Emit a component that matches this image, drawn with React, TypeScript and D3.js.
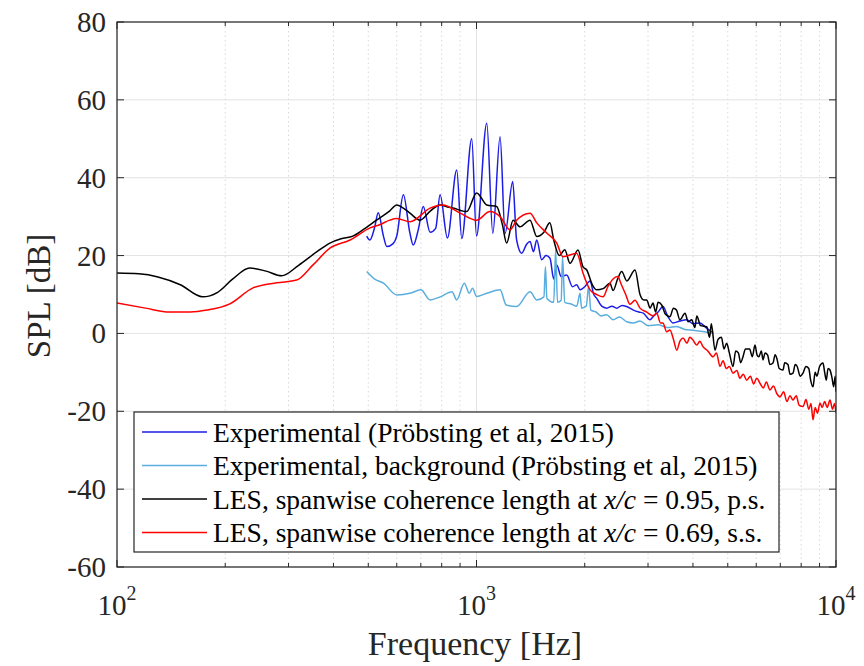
import React from "react";
import * as d3 from "d3";

const W = 864;
const H = 666;
const PL = 117, PR = 836, PT = 22, PB = 567;

const xDomain = [100, 10000];
const yDomain = [-60, 80];
const xTickVals = [100, 1000, 10000];
const xTickExps = ["2", "3", "4"];
const yTickVals = [-60, -40, -20, 0, 20, 40, 60, 80];

// Experimental (Pröbsting et al, 2015)
const expFreq = [495, 505, 520, 533, 551, 563, 585, 600, 626, 653, 667, 690, 711, 743, 770, 792, 830, 881, 910, 970, 1000, 1068, 1110, 1163, 1201, 1261, 1293, 1336, 1380, 1409, 1440, 1471, 1519, 1560, 1601, 1640, 1672, 1720, 1782, 1850, 1900, 1941, 2000, 2069, 2120, 2160, 2230, 2303, 2380, 2455, 2540, 2617, 2731, 2830, 2911, 3039, 3097, 3200, 3303, 3400, 3521, 3680, 3843, 4000, 4185, 4350, 4549];
const expSPL = [25, 24, 27, 31, 25, 22.3, 23, 25, 35.6, 25.7, 22.7, 27, 32.6, 26, 27, 35.6, 24.5, 42, 24.4, 50, 25, 54, 25.7, 50.5, 25.7, 39, 24, 20.6, 23, 23.6, 21, 24, 18.9, 20, 19.3, 14, 17.6, 14.6, 15, 12, 12.5, 11.2, 12, 13.5, 10, 9, 7, 6.5, 7, 6.5, 7.2, 6.9, 6.0, 5.5, 5.2, 3.5, 4.3, 5.5, 6.9, 4.5, 2.7, 3.2, 3.5, 2.5, 2.7, 1.5, 0.1];

// Experimental, background
const bgFreq = [495, 520, 551, 600, 653, 700, 743, 792, 855, 881, 925, 955, 975, 1000, 1068, 1163, 1210, 1293, 1409, 1471, 1540, 1555, 1570, 1640, 1660, 1680, 1720, 1735, 1760, 1840, 1900, 1941, 1960, 2020, 2050, 2080, 2150, 2220, 2300, 2400, 2500, 2617, 2731, 2850, 3000, 3200, 3400, 3600, 3800, 4000, 4250, 4549];
const bgSPL = [15.9, 14, 12.9, 9.9, 10.3, 11.2, 8.6, 9.4, 10.7, 8.6, 12.9, 10.3, 11.6, 9.5, 10.3, 11.2, 7.3, 6.9, 10.7, 8.6, 9.4, 17.1, 9, 8, 21.4, 8, 8.5, 19.7, 8, 7.5, 7, 10.3, 6.5, 7, 12, 6, 5.5, 4.5, 4.8, 3.5, 4.2, 3, 2.7, 3.2, 2, 2.2, 1.5, 1.8, 1, 0.8, 0.5, 0];

// LES, x/c = 0.95, p.s.
const lesPsFreq = [100, 115, 130, 150, 173, 190, 210, 234, 260, 287, 320, 360, 391, 420, 453, 490, 527, 574, 600, 630, 653, 696, 745, 792, 830, 860, 939, 1001, 1068, 1138, 1180, 1213, 1264, 1321, 1409, 1471, 1540, 1600, 1640, 1700, 1760, 1820, 1916, 1978, 2026, 2100, 2160, 2250, 2351, 2398, 2470, 2534, 2620, 2760, 2850, 2920, 2975, 3040, 3097, 3150, 3200, 3275, 3350, 3453, 3530, 3600, 3680, 3802, 3880, 3968, 4050, 4100, 4200, 4369, 4450, 4500, 4607, 4700, 4800, 4880, 4966, 5050, 5170, 5260, 5350, 5430, 5512, 5600, 5750, 5850, 5952, 6030, 6100, 6200, 6265, 6350, 6450, 6550, 6680, 6770, 6850, 6950, 7121, 7200, 7350, 7450, 7593, 7700, 7800, 7950, 8095, 8250, 8400, 8500, 8630, 8750, 8850, 9000, 9200, 9300, 9400, 9500, 9623, 9750, 9850, 9950, 10000];
const lesPsSPL = [15.5, 15.3, 14.5, 12.5, 9.4, 10.5, 14, 16.8, 16, 14.8, 17.5, 21, 23.2, 24.3, 25, 27, 29.1, 31.5, 33, 32, 30.9, 29.1, 31.5, 33, 32.5, 32.2, 31.3, 36.1, 33, 32.6, 28, 23.2, 29.1, 27.4, 29.1, 24.9, 26, 28.4, 24, 20, 21.5, 18, 21.4, 17.1, 16.3, 12.5, 11.2, 11.5, 12.9, 11, 14, 15.9, 13.5, 16.3, 10, 8.6, 8.6, 6.5, 7.8, 5.5, 8, 7.3, 5, 4.3, 6.5, 6, 3.5, 5.2, 3, 3.5, 1.5, 4.5, 2, 1.7, -1, 2.5, -4.3, -1.5, -1, -4, -2.5, -5, -8.5, -4.5, -5, -7.5, -6, -4, -4, -6, -3, -5.5, -6, -4.5, -6.8, -5, -5.5, -8, -7.6, -5.5, -6.5, -9, -9.4, -7.5, -8, -10.5, -10.2, -8, -8.5, -11, -10.2, -8.5, -9, -12, -13.7, -10, -11, -8.5, -7.6, -10, -12, -9, -9.4, -11.5, -13.7, -11, -15];

// LES, x/c = 0.69, s.s.
const lesSsFreq = [100, 120, 140, 160, 178, 206, 239, 278, 316, 351, 391, 445, 506, 540, 574, 600, 653, 743, 807, 900, 1001, 1090, 1163, 1240, 1293, 1409, 1471, 1568, 1672, 1740, 1900, 1978, 2069, 2160, 2248, 2320, 2398, 2470, 2530, 2600, 2673, 2760, 2850, 2975, 3097, 3172, 3250, 3300, 3381, 3453, 3530, 3606, 3680, 3754, 3850, 3920, 4001, 4100, 4180, 4266, 4400, 4549, 4650, 4757, 4850, 4950, 5050, 5170, 5300, 5400, 5520, 5645, 5780, 5900, 6020, 6145, 6280, 6400, 6552, 6700, 6850, 6985, 7150, 7300, 7450, 7593, 7750, 7900, 8095, 8250, 8400, 8520, 8630, 8750, 8880, 9027, 9150, 9300, 9450, 9623, 9780, 9900, 10000];
const lesSsSPL = [7.8, 6.5, 5.5, 5.5, 6.0, 7.6, 11.7, 13.0, 13.7, 17.6, 21.9, 24.0, 27.1, 28, 29.1, 29.5, 28.7, 32.2, 33.0, 30.9, 29.1, 31.3, 30.0, 26.6, 29.1, 30.9, 28.4, 25.8, 23.2, 19.7, 20.6, 15.5, 11.2, 10, 9.4, 12, 14, 14.6, 12.5, 10, 7.5, 8.5, 6.5, 5.5, 4.5, 5.2, 2.7, 2.7, 0.4, 0.9, -1.5, -4.3, -2, -1.2, -2.5, -1, -1.7, -3, -2, -3.4, -4.5, -6.0, -5, -8.5, -7, -9, -8.5, -10.2, -9.5, -11.5, -10.5, -12.0, -11, -13, -11.5, -12.8, -14, -12.5, -14.5, -13.5, -15.5, -16.3, -15, -17.5, -16, -17.1, -16, -18.5, -18.8, -17, -19.5, -18, -22.2, -19, -20.5, -17.9, -19, -17.5, -19, -17.1, -19.5, -18, -20.4];

const seriesColors = ["#1c1ce6", "#5aaede", "#000000", "#ff0000"];

const FONT = "'Liberation Serif', 'Times New Roman', serif";

export default function App() {
  const x = d3.scaleLog().domain(xDomain).range([PL, PR]);
  const y = d3.scaleLinear().domain(yDomain).range([PB, PT]);

  const mk = (fs: number[], vs: number[]) =>
    d3
      .line<number>()
      .x((_, i) => x(fs[i]))
      .y((v) => y(v))
      .curve(d3.curveMonotoneX)(vs) || "";

  const series = [
    { d: mk(expFreq, expSPL), c: seriesColors[0] },
    { d: mk(bgFreq, bgSPL), c: seriesColors[1] },
    { d: mk(lesPsFreq, lesPsSPL), c: seriesColors[2] },
    { d: mk(lesSsFreq, lesSsSPL), c: seriesColors[3] },
  ];

  const minorX: number[] = [];
  [100, 1000].forEach((dec) => {
    for (let k = 2; k <= 9; k++) minorX.push(dec * k);
  });

  const axisColor = "#262626";
  const legX = 134, legY = 412, legW = 645, legH = 140;
  const rowBase = [441.5, 475, 508.5, 542];

  return (
    <svg width={W} height={H} style={{ display: "block", position: "absolute", left: 0, top: 0 }}>
      <rect x={0} y={0} width={W} height={H} fill="#ffffff" />
      <defs>
        <clipPath id="plotclip">
          <rect x={PL} y={PT} width={PR - PL} height={PB - PT} />
        </clipPath>
      </defs>
      {/* minor grid */}
      {minorX.map((v) => (
        <line key={"mg" + v} x1={x(v)} x2={x(v)} y1={PT} y2={PB} stroke="#d9d9d9" strokeWidth={1} strokeDasharray="1.5,3" />
      ))}
      {/* major grid */}
      {xTickVals.map((v) => (
        <line key={"gx" + v} x1={x(v)} x2={x(v)} y1={PT} y2={PB} stroke="#e3e3e3" strokeWidth={1} />
      ))}
      {yTickVals.map((v) => (
        <line key={"gy" + v} x1={PL} x2={PR} y1={y(v)} y2={y(v)} stroke="#e3e3e3" strokeWidth={1} />
      ))}
      {/* data */}
      <g clipPath="url(#plotclip)">
        {series.map((s, i) => (
          <path key={"s" + i} d={s.d} fill="none" stroke={s.c} strokeWidth={1.5} strokeLinejoin="round" />
        ))}
      </g>
      {/* axes box */}
      <rect x={PL} y={PT} width={PR - PL} height={PB - PT} fill="none" stroke={axisColor} strokeWidth={1.2} />
      {/* ticks */}
      {yTickVals.map((v) => (
        <g key={"ty" + v}>
          <line x1={PL} x2={PL + 7} y1={y(v)} y2={y(v)} stroke={axisColor} />
          <line x1={PR} x2={PR - 7} y1={y(v)} y2={y(v)} stroke={axisColor} />
          <text x={106} y={y(v) + 10} textAnchor="end" fontFamily={FONT} fontSize={29} fill="#262626">
            {v}
          </text>
        </g>
      ))}
      {xTickVals.map((v, i) => (
        <g key={"tx" + v}>
          <line x1={x(v)} x2={x(v)} y1={PB} y2={PB - 7} stroke={axisColor} />
          <line x1={x(v)} x2={x(v)} y1={PT} y2={PT + 7} stroke={axisColor} />
          <text x={x(v)} y={615} textAnchor="middle" fontFamily={FONT} fontSize={29} fill="#262626">
            10
            <tspan dy={-15} fontSize={20}>{xTickExps[i]}</tspan>
          </text>
        </g>
      ))}
      {minorX.map((v) => (
        <g key={"mt" + v}>
          <line x1={x(v)} x2={x(v)} y1={PB} y2={PB - 4} stroke={axisColor} />
          <line x1={x(v)} x2={x(v)} y1={PT} y2={PT + 4} stroke={axisColor} />
        </g>
      ))}
      {/* axis labels */}
      <text x={475} y={655} textAnchor="middle" fontFamily={FONT} fontSize={34} fill="#262626">
        Frequency [Hz]
      </text>
      <text transform="translate(50,296) rotate(-90)" textAnchor="middle" fontFamily={FONT} fontSize={33} fill="#262626">
        SPL [dB]
      </text>
      {/* legend */}
      <rect x={legX} y={legY} width={legW} height={legH} fill="#ffffff" stroke={axisColor} strokeWidth={1.2} />
      {rowBase.map((b, i) => (
        <line key={"ll" + i} x1={142} x2={207} y1={b - 9.5} y2={b - 9.5} stroke={seriesColors[i]} strokeWidth={1.5} />
      ))}
      <text x={213} y={rowBase[0]} fontFamily={FONT} fontSize={27.5} fill="#000">
        Experimental (Pröbsting et al, 2015)
      </text>
      <text x={213} y={rowBase[1]} fontFamily={FONT} fontSize={27.5} fill="#000">
        Experimental, background (Pröbsting et al, 2015)
      </text>
      <text x={213} y={rowBase[2]} fontFamily={FONT} fontSize={27.5} fill="#000">
        LES, spanwise coherence length at <tspan fontStyle="italic">x/c</tspan> = 0.95, p.s.
      </text>
      <text x={213} y={rowBase[3]} fontFamily={FONT} fontSize={27.5} fill="#000">
        LES, spanwise coherence length at <tspan fontStyle="italic">x/c</tspan> = 0.69, s.s.
      </text>
    </svg>
  );
}
